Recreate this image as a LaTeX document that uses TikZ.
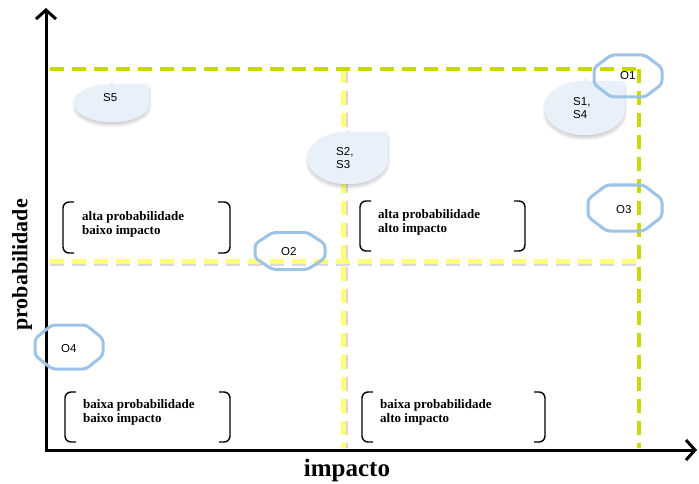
\documentclass[tikz,border=0pt]{standalone}
\usepackage{fontspec}
\setmainfont{Liberation Serif}
\newfontfamily\labelsans{Liberation Sans}
\usetikzlibrary{arrows.meta,shadows.blur}

\definecolor{limeline}{HTML}{C8D800}
\definecolor{paleline}{HTML}{FFFF7A}
\definecolor{octblue}{HTML}{9DC3E6}
\definecolor{dropfill}{HTML}{E8F0FA}

\tikzset{
  axisline/.style={line width=3pt, -{Straight Barb[length=9pt,width=20pt]}},
  limedash/.style={draw=limeline, line width=4pt, dash pattern=on 14pt off 8pt},
  paledash/.style={draw=paleline, line width=5pt, dash pattern=on 14pt off 8pt},
  paleshadow/.style={draw=black!15, line width=4pt, dash pattern=on 14pt off 8pt},
  octline/.style={draw=octblue, line width=3pt, rounded corners=3.5pt},
  dropshape/.style={fill=dropfill, rounded corners=3pt,
    blur shadow={shadow xshift=0pt, shadow yshift=-3pt, shadow opacity=20, shadow blur steps=6, shadow blur radius=3pt}},
  quadtext/.style={font=\bfseries\fontsize{13}{13.5}\selectfont, align=left, anchor=base west, inner sep=0pt},
  tag/.style={font=\labelsans\fontsize{11.5}{13}\selectfont, inner sep=0pt, align=left, anchor=base west},
  bracket/.style={line width=1.4pt, rounded corners=6pt},
  axislabel/.style={font=\bfseries\fontsize{22}{24}\selectfont, inner sep=0pt},
}

% drop outline: ellipse with a square top-right corner
\newcommand\dropat[4]{%
  \begin{scope}[shift={(#1,#2)}, xscale=#3, yscale=#4]
    \fill[dropshape] (0,-1) -- (1,-1) -- (1,0)
      .. controls (1,0.552) and (0.552,1) .. (0,1)
      .. controls (-0.552,1) and (-1,0.552) .. (-1,0)
      .. controls (-1,-0.552) and (-0.552,-1) .. (0,-1) -- cycle;
  \end{scope}}

% flattened octagon outline
\newcommand\octat[4]{%
  \begin{scope}[shift={(#1,#2)}, xscale=#3, yscale=#4]
    \draw[octline] (1,-0.38) -- (1,0.38) -- (0.5,1) -- (-0.5,1) -- (-1,0.38)
      -- (-1,-0.38) -- (-0.5,-1) -- (0.5,-1) -- cycle;
  \end{scope}}

\begin{document}
\begin{tikzpicture}[x=1pt,y=-1pt]
\useasboundingbox (0,0) rectangle (699,484);

% quadrant grid
\draw[paleshadow] (50,264) -- (639,264);
\draw[paleshadow] (346,69) -- (346,448);
\draw[paledash] (50,261) -- (639,261);
\draw[paledash] (343,69) -- (343,448);
\draw[limedash] (50,69) -- (641,69);
\draw[limedash] (639,69) -- (639,448);

% axes
\coordinate (origin) at (46,450);
\coordinate (ytip) at (46,8);
\coordinate (xtip) at (697,450);
\draw[axisline] ([xshift=-1.5pt]origin) -- (xtip);
\draw[axisline] ([yshift=-1.5pt]origin) -- (ytip);

\node[axislabel, rotate=90] (ylab) at (22,265) {probabilidade};
\node[axislabel, font=\bfseries\fontsize{25}{27}\selectfont] (xlab) at (347,470) {impacto};

% strength blobs
\dropat{112}{103}{37}{19}
\dropat{348}{158}{40}{26}
\dropat{585}{108}{40}{27}
\node[tag] (s5) at (103,102) {S5};
\node[tag] (s23) at (336,168) {S2,\\S3};
\node[tag] (s14) at (573,119) {S1,\\S4};

% opportunity rings
\octat{628}{76}{34}{21}
\octat{290}{251}{35}{18.5}
\octat{625}{208}{37}{23}
\octat{69}{347}{34}{22}
\node[tag] (o1) at (620,80) {O1};
\node[tag] (o2) at (281,255) {O2};
\node[tag] (o3) at (616,213) {O3};
\node[tag] (o4) at (61,352) {O4};

% quadrant captions with brackets
\node[quadtext] (q1) at (82,234) {alta probabilidade\\baixo impacto};
\draw[bracket] (74,202) -- (63,202) -- (63,253) -- (74,253);
\draw[bracket] (218,202) -- (230,202) -- (230,253) -- (218,253);

\node[quadtext] (q2) at (378,232) {alta probabilidade\\alto impacto};
\draw[bracket] (371,201) -- (360,201) -- (360,251) -- (371,251);
\draw[bracket] (514,201) -- (525,201) -- (525,251) -- (514,251);

\node[quadtext] (q3) at (83,422) {baixa probabilidade\\baixo impacto};
\draw[bracket] (76,392) -- (65,392) -- (65,442) -- (76,442);
\draw[bracket] (219,392) -- (230,392) -- (230,442) -- (219,442);

\node[quadtext] (q4) at (380,422) {baixa probabilidade\\alto impacto};
\draw[bracket] (373,392) -- (362,392) -- (362,442) -- (373,442);
\draw[bracket] (534,392) -- (545,392) -- (545,442) -- (534,442);
\end{tikzpicture}
\end{document}
